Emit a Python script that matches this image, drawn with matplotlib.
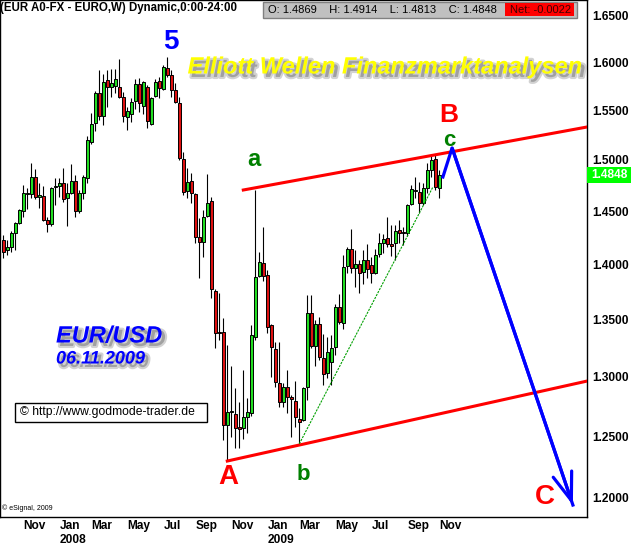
import matplotlib
matplotlib.use("Agg")
import matplotlib.pyplot as plt
import matplotlib.patheffects as pe
from matplotlib.patches import Rectangle
from matplotlib.ticker import NullLocator

plt.rcParams['font.family'] = ['Liberation Sans', 'DejaVu Sans']

W, H = 633, 546

# weekly EUR/USD bars, first bar = week of 1 Oct 2007
opens = [1.4230, 1.4135, 1.4164, 1.4296, 1.4390, 1.4503, 1.4668, 1.4668, 1.4834, 1.4639,
         1.4649, 1.4418, 1.4380, 1.4736, 1.4746, 1.4775, 1.4629, 1.4678, 1.4795, 1.4503,
         1.4678, 1.4824, 1.5180, 1.5371, 1.5679, 1.5442, 1.5814, 1.5741, 1.5751, 1.5741,
         1.5637, 1.5432, 1.5462, 1.5595, 1.5772, 1.5543, 1.5741, 1.5361, 1.5647, 1.5803,
         1.5720, 1.5939, 1.5866, 1.5710, 1.5575, 1.5009, 1.4697, 1.4795, 1.4668, 1.4258,
         1.4211, 1.4456, 1.4600, 1.3759, 1.3391, 1.3391, 1.2593, 1.2703, 1.2686, 1.2576,
         1.2568, 1.2661, 1.2694, 1.3347, 1.3895, 1.4013, 1.3904, 1.3452, 1.3242, 1.2947,
         1.2787, 1.2913, 1.2829, 1.2795, 1.2644, 1.2635, 1.2913, 1.3559, 1.3268, 1.3461,
         1.3164, 1.3032, 1.3129, 1.3260, 1.3614, 1.3469, 1.3985, 1.4145, 1.3967, 1.4004,
         1.3931, 1.4041, 1.3995, 1.3922, 1.4098, 1.4201, 1.4248, 1.4192, 1.4201, 1.4324,
         1.4305, 1.4296, 1.4571, 1.4697, 1.4688, 1.4581, 1.4727, 1.4902, 1.5009, 1.4727]
highs = [1.4277, 1.4230, 1.4314, 1.4399, 1.4522, 1.4756, 1.4727, 1.4970, 1.4911, 1.4775,
         1.4746, 1.4446, 1.4735, 1.4824, 1.4824, 1.4921, 1.4775, 1.4960, 1.4853, 1.4707,
         1.4853, 1.5240, 1.5472, 1.5699, 1.5918, 1.5876, 1.5918, 1.5928, 1.5928, 1.6033,
         1.5689, 1.5533, 1.5627, 1.5824, 1.5835, 1.5800, 1.5762, 1.5637, 1.5824, 1.5845,
         1.5970, 1.6055, 1.5918, 1.5783, 1.5637, 1.5079, 1.4921, 1.4873, 1.4678, 1.4437,
         1.4513, 1.4863, 1.4639, 1.3777, 1.3741, 1.3514, 1.3277, 1.3094, 1.2905, 1.2787,
         1.3059, 1.2821, 1.3452, 1.4707, 1.4117, 1.4352, 1.3949, 1.3461, 1.3303, 1.3303,
         1.2947, 1.3059, 1.2846, 1.2964, 1.2736, 1.2913, 1.3722, 1.3722, 1.3496, 1.3523,
         1.3373, 1.3347, 1.3365, 1.3641, 1.3732, 1.4088, 1.4164, 1.4333, 1.4135, 1.4041,
         1.4135, 1.4192, 1.4070, 1.4145, 1.4296, 1.4286, 1.4446, 1.4371, 1.4371, 1.4418,
         1.4352, 1.4571, 1.4756, 1.4834, 1.4785, 1.4775, 1.4970, 1.5059, 1.5059, 1.4902]
lows = [1.4060, 1.4088, 1.4117, 1.4135, 1.4380, 1.4446, 1.4522, 1.4629, 1.4620, 1.4532,
        1.4409, 1.4305, 1.4362, 1.4561, 1.4639, 1.4590, 1.4362, 1.4668, 1.4446, 1.4484,
        1.4620, 1.4775, 1.5160, 1.5291, 1.5401, 1.5351, 1.5533, 1.5637, 1.5679, 1.5627,
        1.5381, 1.5301, 1.5381, 1.5512, 1.5482, 1.5462, 1.5321, 1.5351, 1.5637, 1.5627,
        1.5710, 1.5845, 1.5637, 1.5575, 1.4999, 1.4658, 1.4629, 1.4581, 1.4201, 1.3877,
        1.4070, 1.4446, 1.3695, 1.3251, 1.3321, 1.2468, 1.2299, 1.2493, 1.2404, 1.2404,
        1.2477, 1.2526, 1.2669, 1.3321, 1.3886, 1.3849, 1.3382, 1.2997, 1.2913, 1.2745,
        1.2745, 1.2694, 1.2493, 1.2576, 1.2436, 1.2627, 1.2804, 1.3251, 1.3094, 1.3146,
        1.2930, 1.2989, 1.2930, 1.3190, 1.3461, 1.3417, 1.3922, 1.3922, 1.3795, 1.3741,
        1.3822, 1.3877, 1.3831, 1.3915, 1.4070, 1.4107, 1.4164, 1.4079, 1.4041, 1.4201,
        1.4183, 1.4267, 1.4561, 1.4629, 1.4484, 1.4561, 1.4678, 1.4834, 1.4707, 1.4629]
closes = [1.4117, 1.4164, 1.4296, 1.4390, 1.4513, 1.4678, 1.4680, 1.4834, 1.4639, 1.4658,
          1.4418, 1.4380, 1.4727, 1.4746, 1.4775, 1.4620, 1.4678, 1.4795, 1.4503, 1.4678,
          1.4834, 1.5200, 1.5361, 1.5679, 1.5442, 1.5793, 1.5741, 1.5783, 1.5824, 1.5637,
          1.5442, 1.5492, 1.5585, 1.5772, 1.5575, 1.5793, 1.5391, 1.5627, 1.5793, 1.5731,
          1.5949, 1.5866, 1.5710, 1.5585, 1.5019, 1.4688, 1.4785, 1.4678, 1.4258, 1.4211,
          1.4446, 1.4581, 1.3777, 1.3382, 1.3382, 1.2593, 1.2703, 1.2711, 1.2568, 1.2559,
          1.2661, 1.2703, 1.3365, 1.3886, 1.4022, 1.3895, 1.3434, 1.3260, 1.2955, 1.2787,
          1.2913, 1.2829, 1.2812, 1.2661, 1.2619, 1.2905, 1.3559, 1.3268, 1.3461, 1.3172,
          1.3024, 1.3216, 1.3251, 1.3614, 1.3478, 1.3976, 1.4145, 1.3967, 1.4004, 1.3922,
          1.4041, 1.3958, 1.3922, 1.4088, 1.4201, 1.4239, 1.4192, 1.4173, 1.4314, 1.4296,
          1.4296, 1.4561, 1.4717, 1.4707, 1.4581, 1.4727, 1.4902, 1.4999, 1.4736, 1.4848]

# first bar of each month (bar index) and axis labels
month_bars = [5, 14, 22, 31, 40, 48, 57, 66, 74, 83, 92, 101, 109]
month_names = ["Nov", "Jan\n2008", "Mar", "May", "Jul", "Sep", "Nov",
               "Jan\n2009", "Mar", "May", "Jul", "Sep", "Nov"]
price_ticks = [1.20, 1.25, 1.30, 1.35, 1.40, 1.45, 1.50, 1.55, 1.60, 1.65]

# channel and wave drawings (bar index, price)
upper_x, upper_y = [60, 146], [1.4705, 1.5330]
lower_x, lower_y = [56, 146], [1.2296, 1.2963]
trend_x, trend_y = [74, 107.4], [1.2436, 1.4734]
proj_x, proj_y = [109.9, 112.2, 142.4], [1.4832, 1.5119, 1.1944]

last_close = 1.4848
quote = "O: 1.4869    H: 1.4914    L: 1.4813    C: 1.4848"
net = "Net: -0.0022"

fig = plt.figure(figsize=(W / 100, H / 100), dpi=100)
ax = fig.add_axes([0, 29 / H, 587 / W, 517 / H])
ax.set_yscale('log')
ax.set_xlim(-0.825, 145.925)
ax.set_ylim(1.1850, 1.6670)


def px(x, y):
    return x / W, 1 - y / H


# candles
for i in range(len(opens)):
    o, hi, lo, c = opens[i], highs[i], lows[i], closes[i]
    col = '#22dd22' if c >= o else '#dd1111'
    ax.vlines(i, lo, hi, color='black', lw=0.8, zorder=2)
    ax.bar(i, max(abs(c - o), 0.0002), bottom=min(o, c), width=0.75,
           color=col, edgecolor='black', linewidth=0.7, zorder=3)

ax.plot(upper_x, upper_y, color='#ff0000', lw=2.2, zorder=4)
ax.plot(lower_x, lower_y, color='#ff0000', lw=2.2, zorder=4)
ax.plot(trend_x, trend_y, color='#00a000', lw=0.8, ls=(0, (2, 1)), zorder=4)
ax.plot(proj_x, proj_y, color='#0000ff', lw=2.3, zorder=5, solid_joinstyle='miter')
ax.annotate('', xy=(proj_x[2], proj_y[2]), xytext=(proj_x[1], proj_y[1]),
            arrowprops=dict(arrowstyle='->,head_length=2.0,head_width=0.7',
                            color='#0000ff', lw=2.3, shrinkA=0, shrinkB=0), zorder=5)

# axes
ax.yaxis.tick_right()
ax.set_yticks(price_ticks)
ax.set_yticklabels([f"{v:.4f}" for v in price_ticks])
ax.yaxis.set_minor_locator(NullLocator())
ax.tick_params(axis='y', length=0, pad=4, labelsize=8.6)
ax.set_xticks(month_bars)
ax.set_xticklabels(month_names, linespacing=1.3)
ax.tick_params(axis='x', length=0, pad=2, labelsize=8.6)
for lbl in ax.get_xticklabels():
    lbl.set_horizontalalignment('left')
    lbl.set_fontweight('bold')
for lbl in ax.get_yticklabels():
    lbl.set_fontweight('bold')
for s in ax.spines.values():
    s.set_color('black')
    s.set_linewidth(1)

# header
fig.text(*px(0, 8), "(EUR A0-FX - EURO,W) Dynamic,0:00-24:00", fontsize=8.3,
         fontweight='bold', va='center', ha='left')
fig.patches.append(Rectangle(px(263, 18), (577 - 263) / W, 16 / H, transform=fig.transFigure,
                             facecolor='#c0c0c0', edgecolor='#808080', lw=1))
fig.patches.append(Rectangle(px(505, 16), (574 - 505) / W, 13 / H, transform=fig.transFigure,
                             facecolor='#ff0000', edgecolor='none'))
fig.text(*px(268, 10), quote, fontsize=8, va='center', ha='left')
fig.text(*px(510, 10), net, fontsize=8, va='center', ha='left', color='#400000')

# last price label
fig.patches.append(Rectangle(px(587, 183), (631 - 587) / W, 16 / H, transform=fig.transFigure,
                             facecolor='#00ff00', edgecolor='none'))
fig.text(*px(609, 175), f"{last_close:.4f}", fontsize=8.6, fontweight='bold',
         color='white', va='center', ha='center')

shadow = [pe.SimpleLineShadow(offset=(2.5, -2.5), shadow_color='#808080', alpha=0.35, linewidth=3),
          pe.SimplePatchShadow(offset=(2.5, -2.5), shadow_rgbFace='#808080', alpha=0.6),
          pe.Normal()]

fig.text(*px(385, 67), "Elliott Wellen Finanzmarktanalysen", fontsize=17, fontweight='bold',
         fontstyle='italic', color='#ffff00', va='center', ha='center', path_effects=shadow)
fig.text(*px(56, 336), "EUR/USD", fontsize=17, fontweight='bold', fontstyle='italic',
         color='#0000ff', va='center', ha='left', path_effects=shadow)
fig.text(*px(56, 359), "06.11.2009", fontsize=13, fontweight='bold', fontstyle='italic',
         color='#0000ff', va='center', ha='left', path_effects=shadow)

fig.patches.append(Rectangle(px(15, 422), (207 - 15) / W, 19 / H, transform=fig.transFigure,
                             facecolor='white', edgecolor='black', lw=1, zorder=2))
fig.text(*px(20, 412.5), "\u00a9 http://www.godmode-trader.de", fontsize=8.7,
         va='center', ha='left')
fig.text(*px(2, 508), "\u00a9 eSignal, 2009", fontsize=5, va='center', ha='left')

# wave labels
fig.text(*px(171, 42), "5", fontsize=20, fontweight='bold', color='#0000ff', va='center', ha='center')
fig.text(*px(228, 477), "A", fontsize=20, fontweight='bold', color='#ff0000', va='center', ha='center')
fig.text(*px(449, 115), "B", fontsize=19, fontweight='bold', color='#ff0000', va='center', ha='center')
fig.text(*px(545, 497), "C", fontsize=20, fontweight='bold', color='#ff0000', va='center', ha='center')
fig.text(*px(254, 159), "a", fontsize=17, fontweight='bold', color='#008000', va='center', ha='center')
fig.text(*px(303, 474), "b", fontsize=16, fontweight='bold', color='#008000', va='center', ha='center')
fig.text(*px(449, 141), "c", fontsize=16, fontweight='bold', color='#008000', va='center', ha='center')

fig.savefig("out.png", dpi=100)
